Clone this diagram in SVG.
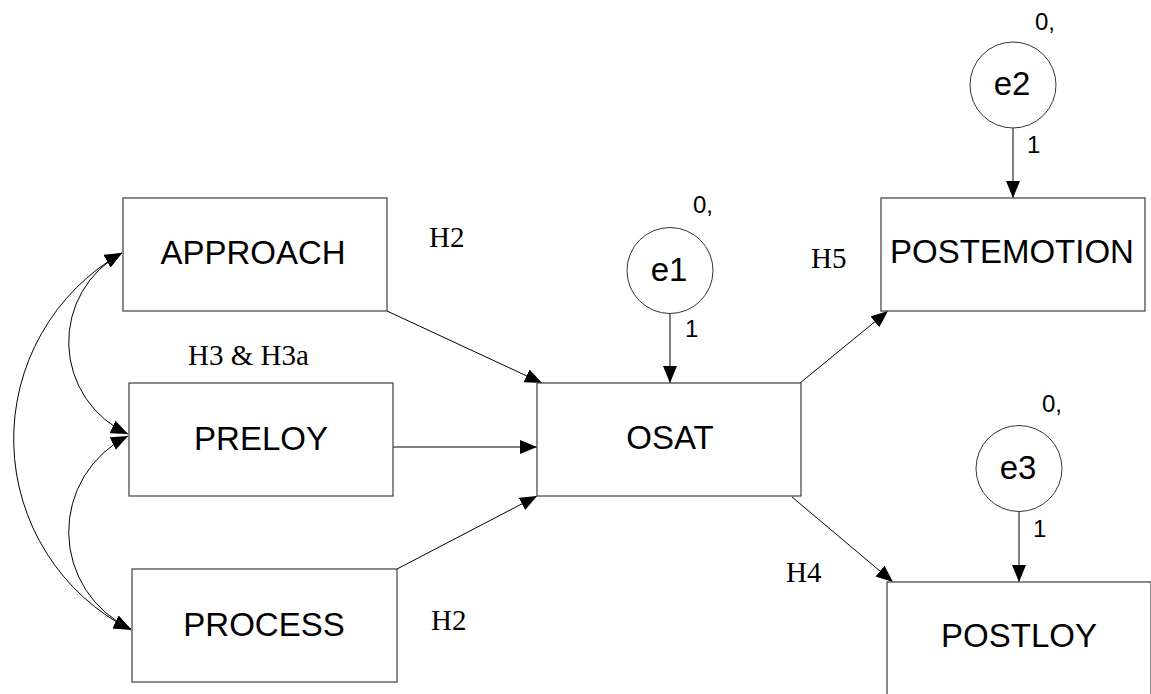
<svg xmlns="http://www.w3.org/2000/svg" width="1151" height="694" viewBox="0 0 1151 694">
  <style>
    .box { fill: #ffffff; stroke: #4d4d4d; stroke-width: 1.3; }
    .err { fill: #ffffff; stroke: #333333; stroke-width: 1; }
    .lbl { font-family: "Liberation Sans", Arial, sans-serif; font-size: 33px; fill: #000; text-anchor: middle; }
    .num { font-family: "Liberation Sans", Arial, sans-serif; font-size: 24px; fill: #000; }
    .hyp { font-family: "Liberation Serif", "Times New Roman", serif; font-size: 29px; fill: #000; }
    .path { fill: none; stroke: #000; stroke-width: 1; marker-end: url(#head); }
    .cov { fill: none; stroke: #000; stroke-width: 1; marker-start: url(#head); marker-end: url(#head); }
  </style>
  <defs>
    <marker id="head" markerUnits="userSpaceOnUse" markerWidth="18" markerHeight="15" refX="17" refY="7" orient="auto-start-reverse">
      <path d="M0,0 L17,7 L0,14 z" fill="#000"/>
    </marker>
  </defs>
  <rect width="1151" height="694" fill="#ffffff"/>

  <!-- connectors: regression paths, error paths and covariance arcs -->
  <g id="connectors">
    <line class="path" x1="387" y1="311" x2="542" y2="383"/>
    <line class="path" x1="393" y1="447" x2="537" y2="447"/>
    <line class="path" x1="397" y1="569" x2="537" y2="496"/>
    <line class="path" x1="800" y1="383" x2="888" y2="311"/>
    <line class="path" x1="792" y1="497" x2="893" y2="582"/>
    <line class="path" x1="670" y1="313.5" x2="670" y2="383"/>
    <line class="path" x1="1013" y1="128" x2="1013" y2="198"/>
    <line class="path" x1="1019" y1="511.5" x2="1019" y2="582"/>
    <path class="cov" d="M122,253 A101,101 0 0 0 128,434"/>
    <path class="cov" d="M128,436 A107,107 0 0 0 131,629"/>
    <path class="cov" d="M122,253 A214,214 0 0 0 131,630"/>
  </g>

  <g id="approach">
    <rect class="box" x="123" y="198" width="264" height="113"/>
    <text class="lbl" x="253" y="264">APPROACH</text>
  </g>
  <g id="preloy">
    <rect class="box" x="129" y="383" width="264" height="113"/>
    <text class="lbl" x="261" y="450">PRELOY</text>
  </g>
  <g id="process">
    <rect class="box" x="132" y="569" width="265" height="113"/>
    <text class="lbl" x="264" y="636">PROCESS</text>
  </g>
  <g id="osat">
    <rect class="box" x="537" y="383" width="264" height="113"/>
    <text class="lbl" x="670" y="449">OSAT</text>
  </g>
  <g id="postemotion">
    <rect class="box" x="881" y="198" width="264" height="113"/>
    <text class="lbl" x="1012" y="263">POSTEMOTION</text>
  </g>
  <g id="postloy">
    <rect class="box" x="887" y="582" width="264" height="113"/>
    <text class="lbl" x="1019" y="647">POSTLOY</text>
  </g>

  <g id="e1">
    <circle class="err" cx="670" cy="270.5" r="43"/>
    <text class="lbl" x="669" y="281">e1</text>
    <text class="num" x="693" y="213">0,</text>
    <text class="num" x="685" y="337">1</text>
  </g>
  <g id="e2">
    <circle class="err" cx="1013" cy="85" r="43"/>
    <text class="lbl" x="1012" y="95">e2</text>
    <text class="num" x="1035" y="30">0,</text>
    <text class="num" x="1027" y="153">1</text>
  </g>
  <g id="e3">
    <circle class="err" cx="1019" cy="468.5" r="43"/>
    <text class="lbl" x="1018" y="479">e3</text>
    <text class="num" x="1042" y="412">0,</text>
    <text class="num" x="1033" y="537">1</text>
  </g>

  <g id="hypotheses">
    <text class="hyp" x="429" y="247">H2</text>
    <text class="hyp" x="188" y="365">H3 &amp; H3a</text>
    <text class="hyp" x="431" y="630">H2</text>
    <text class="hyp" x="811" y="268">H5</text>
    <text class="hyp" x="786" y="582">H4</text>
  </g>
</svg>
